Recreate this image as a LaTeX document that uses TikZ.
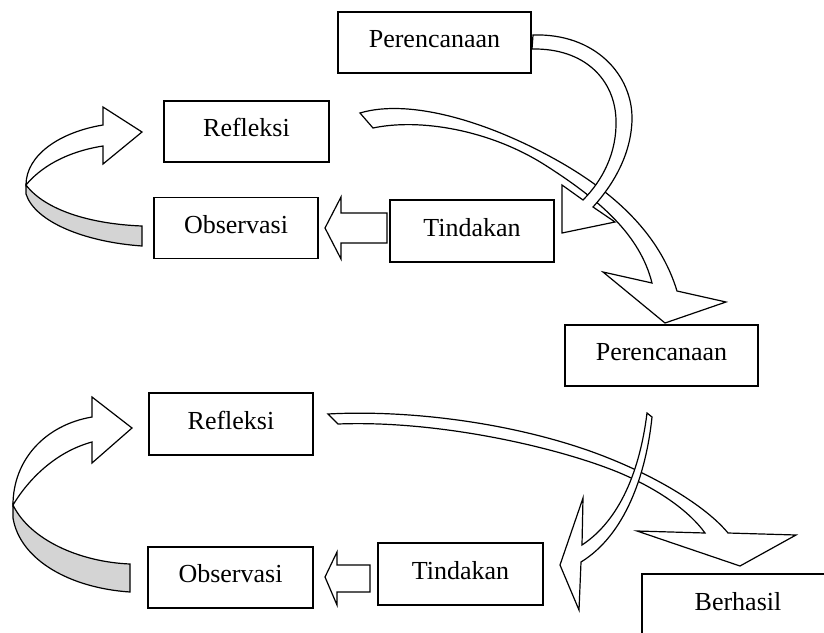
\documentclass[tikz,border=0pt]{standalone}
\usepackage{fontspec}
\setmainfont{Liberation Serif}
\begin{document}
\begin{tikzpicture}[x=1pt,y=-1pt]
\tikzset{
  box/.style={draw, line width=1.2pt, fill=white, inner sep=0pt,
    font=\fontsize{26}{30}\selectfont, text height=18pt, text depth=8pt},
  blk/.style={draw, line width=1.2pt, fill=white, line join=miter},
  ribbon/.style={draw, line width=1.2pt, fill=black!17, line join=miter},
}
\useasboundingbox (0,0) rectangle (824,632);
\clip (0,0) rectangle (824,632);

% boxes (named nodes)
\node[box, minimum width=193pt, minimum height=61pt] (p1) at (434.5,42.5) {Perencanaan};
\node[box, minimum width=165pt, minimum height=61pt] (r1) at (246.5,131.5) {Refleksi};
\node[box, minimum width=164pt, minimum height=61pt] (o1) at (236,228) {Observasi};
\node[box, minimum width=164pt, minimum height=62pt] (t1) at (472,231) {Tindakan};
\node[box, minimum width=193pt, minimum height=61pt] (p2) at (661.5,355.5) {Perencanaan};
\node[box, minimum width=164pt, minimum height=62pt] (r2) at (231,424) {Refleksi};
\node[box, minimum width=165pt, minimum height=61pt] (o2) at (230.5,577.5) {Observasi};
\node[box, minimum width=165pt, minimum height=62pt] (t2) at (460.5,574) {Tindakan};
\node[box, minimum width=192pt, minimum height=62pt] (b) at (738,605) {Berhasil};

% Arrow B: Refleksi 1 -> Perencanaan 2
\draw[blk] (360,113) .. controls (410,98) and (490,122) .. (560,162)
  .. controls (616,194) and (660,235) .. (677,291)
  -- (726,302) -- (665,323) -- (603,272) -- (652,283)
  .. controls (640,235) and (600,200) .. (545,165)
  .. controls (490,130) and (420,118) .. (373,128) -- cycle;

% Arrow A: Perencanaan 1 -> Tindakan 1
\draw[blk] (533,35) .. controls (595,33) and (633,75) .. (632,120)
  .. controls (631,155) and (613,185) .. (593,207)
  -- (615,222) -- (562,233) -- (562,185) -- (583,200)
  .. controls (603,180) and (617,152) .. (616,120)
  .. controls (615,80) and (585,48) .. (532,49) -- cycle;

% Arrow C: Refleksi 2 -> Berhasil
\draw[blk] (328,414) .. controls (400,410) and (500,420) .. (587,450)
  .. controls (650,472) and (705,505) .. (728,533)
  -- (796,535) -- (740,566) -- (637,531) -- (705,533)
  .. controls (690,512) and (660,490) .. (620,473)
  .. controls (560,448) and (440,420) .. (338,424) -- cycle;

% Arrow D: Perencanaan 2 -> Tindakan 2
\draw[blk] (647,413) .. controls (640,470) and (620,520) .. (582,545)
  -- (583,498) -- (560,565) -- (579,610) -- (581,562)
  .. controls (625,535) and (646,475) .. (652,417) -- cycle;

% straight block arrows
\draw[blk] (387,213) -- (341,213) -- (341,197) -- (325,228) -- (341,259)
  -- (341,243) -- (387,243) -- cycle;
\draw[blk] (370,565) -- (337,565) -- (337,552) -- (325,577) -- (337,605)
  -- (337,592) -- (370,592) -- cycle;

% curled arrow 1 (Observasi 1 -> Refleksi 1)
\draw[ribbon] (26,185) .. controls (45,210) and (90,224) .. (142,226)
  -- (142,246) .. controls (85,242) and (35,222) .. (26,194) -- cycle;
\draw[blk] (103,146) -- (103,164) -- (142,132) -- (103,107) -- (103,125)
  .. controls (60,132) and (26,155) .. (26,185)
  .. controls (40,168) and (65,152) .. (103,146) -- cycle;

% curled arrow 2 (Observasi 2 -> Refleksi 2)
\draw[ribbon] (13,505) .. controls (30,540) and (80,562) .. (130,564)
  -- (130,592) .. controls (70,588) and (20,560) .. (13,518) -- cycle;
\draw[blk] (92,442) -- (92,463) -- (132,428) -- (92,397) -- (92,417)
  .. controls (45,425) and (13,460) .. (13,505)
  .. controls (28,480) and (55,452) .. (92,442) -- cycle;
\end{tikzpicture}
\end{document}
